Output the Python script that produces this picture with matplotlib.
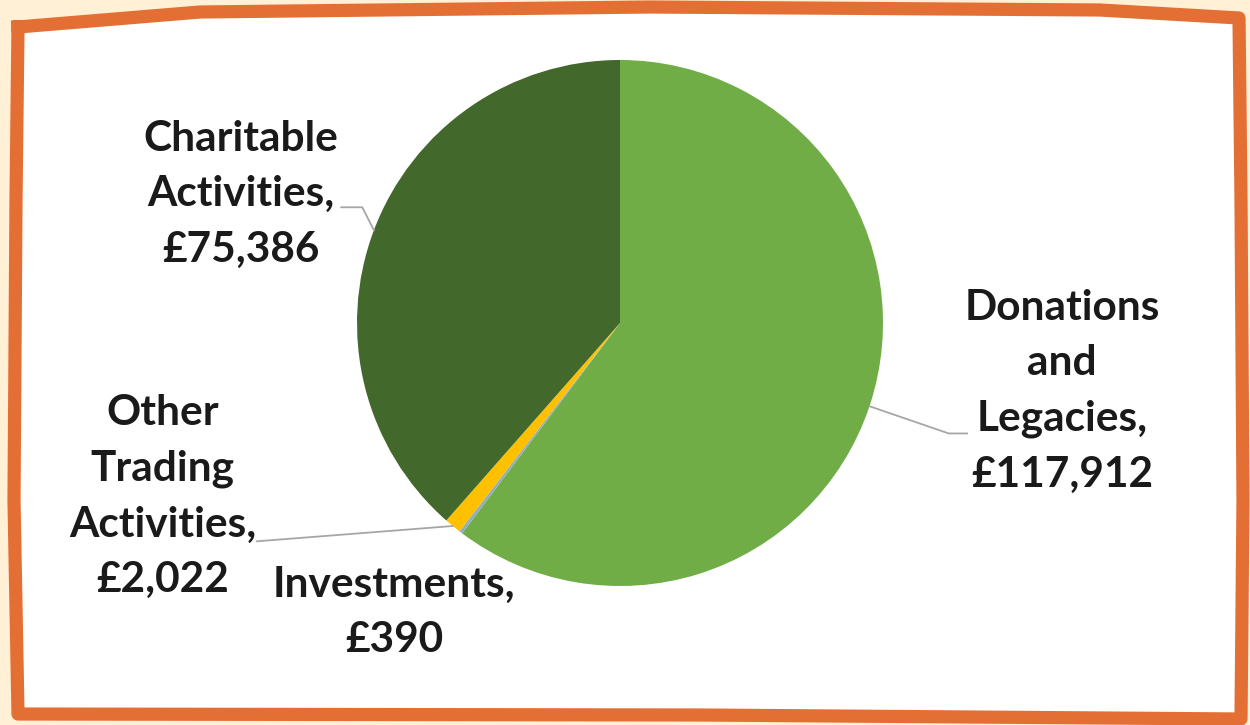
'''plot.py draws the income breakdown pie chart inside a hand-drawn orange frame.
'''

import matplotlib
matplotlib.use('Agg')
import matplotlib.pyplot as plt
import numpy as np

# income sources, clockwise from the top
labels = ['Donations\nand\nLegacies,', 'Investments,', 'Other\nTrading\nActivities,', 'Charitable\nActivities,']
values = [117912, 390, 2022, 75386]
colors = ['#70AD47', '#8FAFC0', '#FFC000', '#43682B']

# label centres in pie units (radius = 1, centre = 0,0)
label_pos = [(1.68, -0.26), (-0.86, -1.10), (-1.74, -0.66), (-1.44, 0.49)]
# knee point of each leader line (None = no leader)
leader_knee = [(1.25, -0.42), None, None, (-0.98, 0.44)]
leader_end = [(1.32, -0.42), None, (-1.38, -0.83), (-1.06, 0.44)]

W, H = 1250, 725

fig = plt.figure(figsize=(12.5, 7.25), dpi=100)
fig.patch.set_facecolor('#FFF0D6')

# frame drawn in pixel coords
bg = fig.add_axes([0, 0, 1, 1])
bg.set_xlim(0, W)
bg.set_ylim(H, 0)
bg.axis('off')
frame_x = [18, 200, 650, 1100, 1239, 1241, 1243, 1241, 700, 18, 14, 16, 18]
frame_y = [27, 12, 7, 10, 18, 200, 500, 719, 715, 714, 500, 200, 27]
bg.fill(frame_x, frame_y, color='white', zorder=1)
bg.plot(frame_x, frame_y, color='#E46F35', lw=9.5, solid_joinstyle='round', zorder=2)

# pie axes: centre (620, 323) px, radius 263 px
cx, cy, r = 620, 323, 263
ax = fig.add_axes([(cx - r) / W, (H - cy - r) / H, 2 * r / W, 2 * r / H])
wedges, _ = ax.pie(values, colors=colors, startangle=90, counterclock=False,
                   wedgeprops={'linewidth': 0})
ax.set_xlim(-1, 1)
ax.set_ylim(-1, 1)
ax.set_aspect('equal')

total = sum(values)
angles = []
start = 90.0
for v in values:
  sweep = 360.0 * v / total
  angles.append(np.deg2rad(start - sweep / 2))
  start -= sweep

for i, (lab, v) in enumerate(zip(labels, values)):
  txt = lab + '\n\u00a3{:,}'.format(v)
  lx, ly = label_pos[i]
  ax.text(lx, ly, txt, ha='center', va='center', fontsize=30.5, fontweight='bold',
          family=['Lato', 'DejaVu Sans'], color='#1A1A1A', linespacing=1.56,
          clip_on=False)
  if leader_end[i] is None:
    continue
  ex, ey = np.cos(angles[i]), np.sin(angles[i])
  pts = [(ex, ey)]
  if leader_knee[i] is not None:
    pts.append(leader_knee[i])
  pts.append(leader_end[i])
  xs, ys = zip(*pts)
  ax.plot(xs, ys, color='#A6A6A6', lw=1.3, clip_on=False)

plt.savefig('out.png', dpi=100, facecolor=fig.get_facecolor())
